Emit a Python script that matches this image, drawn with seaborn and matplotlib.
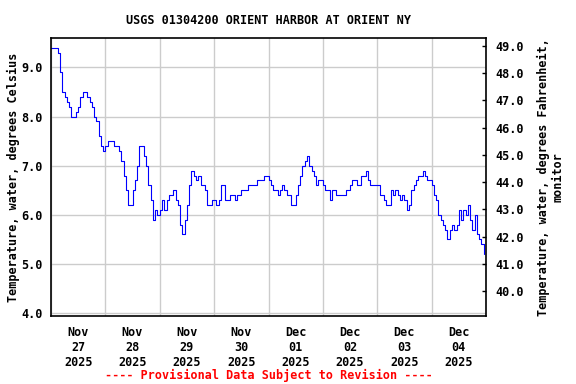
import numpy as np
import pandas as pd
import matplotlib
matplotlib.use("Agg")
import matplotlib.pyplot as plt
import matplotlib.dates as mdates
import seaborn as sns

# Hourly water temperature (deg C), one list per day
nov27 = [9.4, 9.4, 9.4, 9.3, 8.9, 8.5, 8.4, 8.3, 8.2, 8.0, 8.0, 8.1, 8.2, 8.4, 8.5, 8.5, 8.4, 8.3, 8.2, 8.0, 7.9, 7.6, 7.4, 7.3]
nov28 = [7.4, 7.5, 7.5, 7.5, 7.4, 7.4, 7.3, 7.1, 6.8, 6.5, 6.2, 6.2, 6.5, 6.7, 7.0, 7.4, 7.4, 7.2, 7.0, 6.6, 6.3, 5.9, 6.1, 6.0]
nov29 = [6.1, 6.3, 6.1, 6.3, 6.4, 6.4, 6.5, 6.3, 6.2, 5.8, 5.6, 5.9, 6.2, 6.6, 6.9, 6.8, 6.7, 6.8, 6.6, 6.6, 6.5, 6.2, 6.2, 6.3]
nov30 = [6.3, 6.2, 6.3, 6.6, 6.6, 6.3, 6.3, 6.4, 6.4, 6.3, 6.4, 6.4, 6.5, 6.5, 6.5, 6.6, 6.6, 6.6, 6.6, 6.7, 6.7, 6.7, 6.8, 6.8]
dec01 = [6.7, 6.6, 6.5, 6.5, 6.4, 6.5, 6.6, 6.5, 6.4, 6.4, 6.2, 6.2, 6.4, 6.6, 6.8, 7.0, 7.1, 7.2, 7.0, 6.9, 6.8, 6.6, 6.7, 6.7]
dec02 = [6.6, 6.5, 6.5, 6.3, 6.5, 6.5, 6.4, 6.4, 6.4, 6.4, 6.5, 6.5, 6.6, 6.7, 6.7, 6.6, 6.6, 6.8, 6.8, 6.9, 6.7, 6.6, 6.6, 6.6]
dec03 = [6.6, 6.4, 6.4, 6.3, 6.2, 6.2, 6.5, 6.4, 6.5, 6.4, 6.3, 6.4, 6.3, 6.1, 6.2, 6.5, 6.6, 6.7, 6.8, 6.8, 6.9, 6.8, 6.7, 6.7]
dec04 = [6.6, 6.4, 6.3, 6.0, 5.9, 5.8, 5.7, 5.5, 5.7, 5.8, 5.7, 5.8, 6.1, 5.9, 6.1, 6.0, 6.2, 5.9, 5.7, 6.0, 5.6, 5.5, 5.4, 5.2]

temps = nov27 + nov28 + nov29 + nov30 + dec01 + dec02 + dec03 + dec04
zeit = pd.date_range("2025-11-27 00:00", periods=len(temps), freq="h")
df = pd.DataFrame({"datetime": zeit, "temp_c": temps})

c_ticks = [4.0, 5.0, 6.0, 7.0, 8.0, 9.0]
f_ticks = [40.0, 41.0, 42.0, 43.0, 44.0, 45.0, 46.0, 47.0, 48.0, 49.0]
ylim_c = (3.94, 9.6)

sns.set_style("white")
plt.rcParams['font.family'] = ['DejaVu Sans Mono']
plt.rcParams['font.weight'] = 'bold'
plt.rcParams['font.size'] = 8.5
for k in ['text.color', 'axes.labelcolor', 'xtick.color', 'ytick.color']:
    plt.rcParams[k] = 'black'

fig = plt.figure(figsize=(5.76, 3.84), dpi=100)
ax = fig.add_axes([51 / 576, 1 - 316 / 384, 435 / 576, 278 / 384])

sns.lineplot(data=df, x="datetime", y="temp_c", ax=ax, color="#0000ff",
             linewidth=0.8, estimator=None, drawstyle="steps-post")

ax.set_xlim(pd.Timestamp("2025-11-27"), pd.Timestamp("2025-12-05"))
ax.set_ylim(*ylim_c)
ax.set_yticks(c_ticks)
ax.set_yticklabels([f"{v:.1f}" for v in c_ticks], fontweight='bold', fontsize=8.5)

# grille aux minuits, etiquettes a midi
ax.xaxis.set_major_locator(mdates.DayLocator())
ax.xaxis.set_major_formatter(plt.NullFormatter())
ax.xaxis.set_minor_locator(mdates.HourLocator(byhour=12))
ax.xaxis.set_minor_formatter(mdates.DateFormatter("%b\n%d\n%Y"))
ax.tick_params(axis="x", which="both", length=0, pad=7, labelsize=8.5)
ax.tick_params(axis="y", length=0, pad=6)
for lab in ax.get_xticklabels(minor=True):
    lab.set_fontweight('bold')
ax.grid(True, which="major", color="#cccccc", linewidth=1)

for s in ax.spines.values():
    s.set_color("black")
    s.set_linewidth(1.2)

ax.set_xlabel("")
ax.set_ylabel("Temperature, water, degrees Celsius", fontweight='bold', fontsize=8.5, labelpad=1)

# axe droit en Fahrenheit
ax2 = ax.twinx()
ax2.set_ylim(ylim_c[0] * 1.8 + 32, ylim_c[1] * 1.8 + 32)
ax2.set_yticks(f_ticks)
ax2.set_yticklabels([f"{v:.1f}" for v in f_ticks], fontweight='bold', fontsize=8.5)
ax2.tick_params(axis="y", direction="in", length=3, width=1, pad=7, colors="black")
ax2.set_ylabel("Temperature, water, degrees Fahrenheit,\nmonitor", fontsize=8.5,
               fontweight='bold', multialignment='center', labelpad=9)
ax2.grid(False)
for s in ax2.spines.values():
    s.set_visible(False)

ax.set_title("USGS 01304200 ORIENT HARBOR AT ORIENT NY", fontweight='bold', fontsize=8.5, pad=10)
fig.text((51 + 486) / 2 / 576, 1 - 375 / 384, "---- Provisional Data Subject to Revision ----",
         color="#ff0000", ha="center", va="center", fontweight='bold', fontsize=8.5)

fig.savefig("out.png", dpi=100)
